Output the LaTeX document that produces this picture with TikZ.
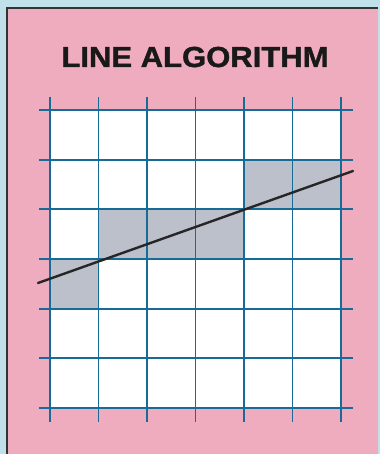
\documentclass[tikz,border=0pt]{standalone}
\usepackage{fontspec}
\setmainfont{Liberation Sans}
\newfontfamily\heavyfont[FakeBold=1.2]{Liberation Sans Bold}
\definecolor{bgblue}{RGB}{192,224,234}
\definecolor{panelpink}{RGB}{238,172,190}
\definecolor{gridblue}{RGB}{22,108,150}
\definecolor{cellgray}{RGB}{188,192,202}
\tikzset{
  gridline/.style={draw=gridblue, line width=1.8pt},
  shade/.style={fill=cellgray},
  raster/.style={draw=black!85, line width=2.4pt, line cap=round},
  title/.style={font=\heavyfont\fontsize{29}{29}\selectfont, xscale=1.07, text=black!90, inner sep=0pt}
}
\begin{document}
\begin{tikzpicture}[x=1pt,y=-1pt]
\useasboundingbox (0,0) rectangle (380,454);
\fill[bgblue] (0,0) rectangle (380,454);
\fill[panelpink] (7,8) rectangle (378,454);
\draw[black!80, line width=1.6pt] (7,454) -- (7,8) -- (378,8);
% white grid area
\fill[white] (50,110) rectangle (341,408);
% shaded cells
\fill[shade] (50,259) rectangle (99,308);
\fill[shade] (99,209) rectangle (244,259);
\fill[shade] (244,160) rectangle (341,209);
% vertical grid lines
\foreach \x in {50,98.5,147,195.5,244,292.5,341}
  \draw[gridline] (\x,97) -- (\x,422);
% horizontal grid lines
\foreach \y in {110,159.7,209.3,259,308.7,358.3,408}
  \draw[gridline] (39,\y) -- (353,\y);
% the line
\coordinate (p0) at (38,283);
\coordinate (p1) at (353,171);
\draw[raster] (p0) -- (p1);
% title
\node[title, anchor=base] (t) at (195,67) {LINE ALGORITHM};
\end{tikzpicture}
\end{document}
